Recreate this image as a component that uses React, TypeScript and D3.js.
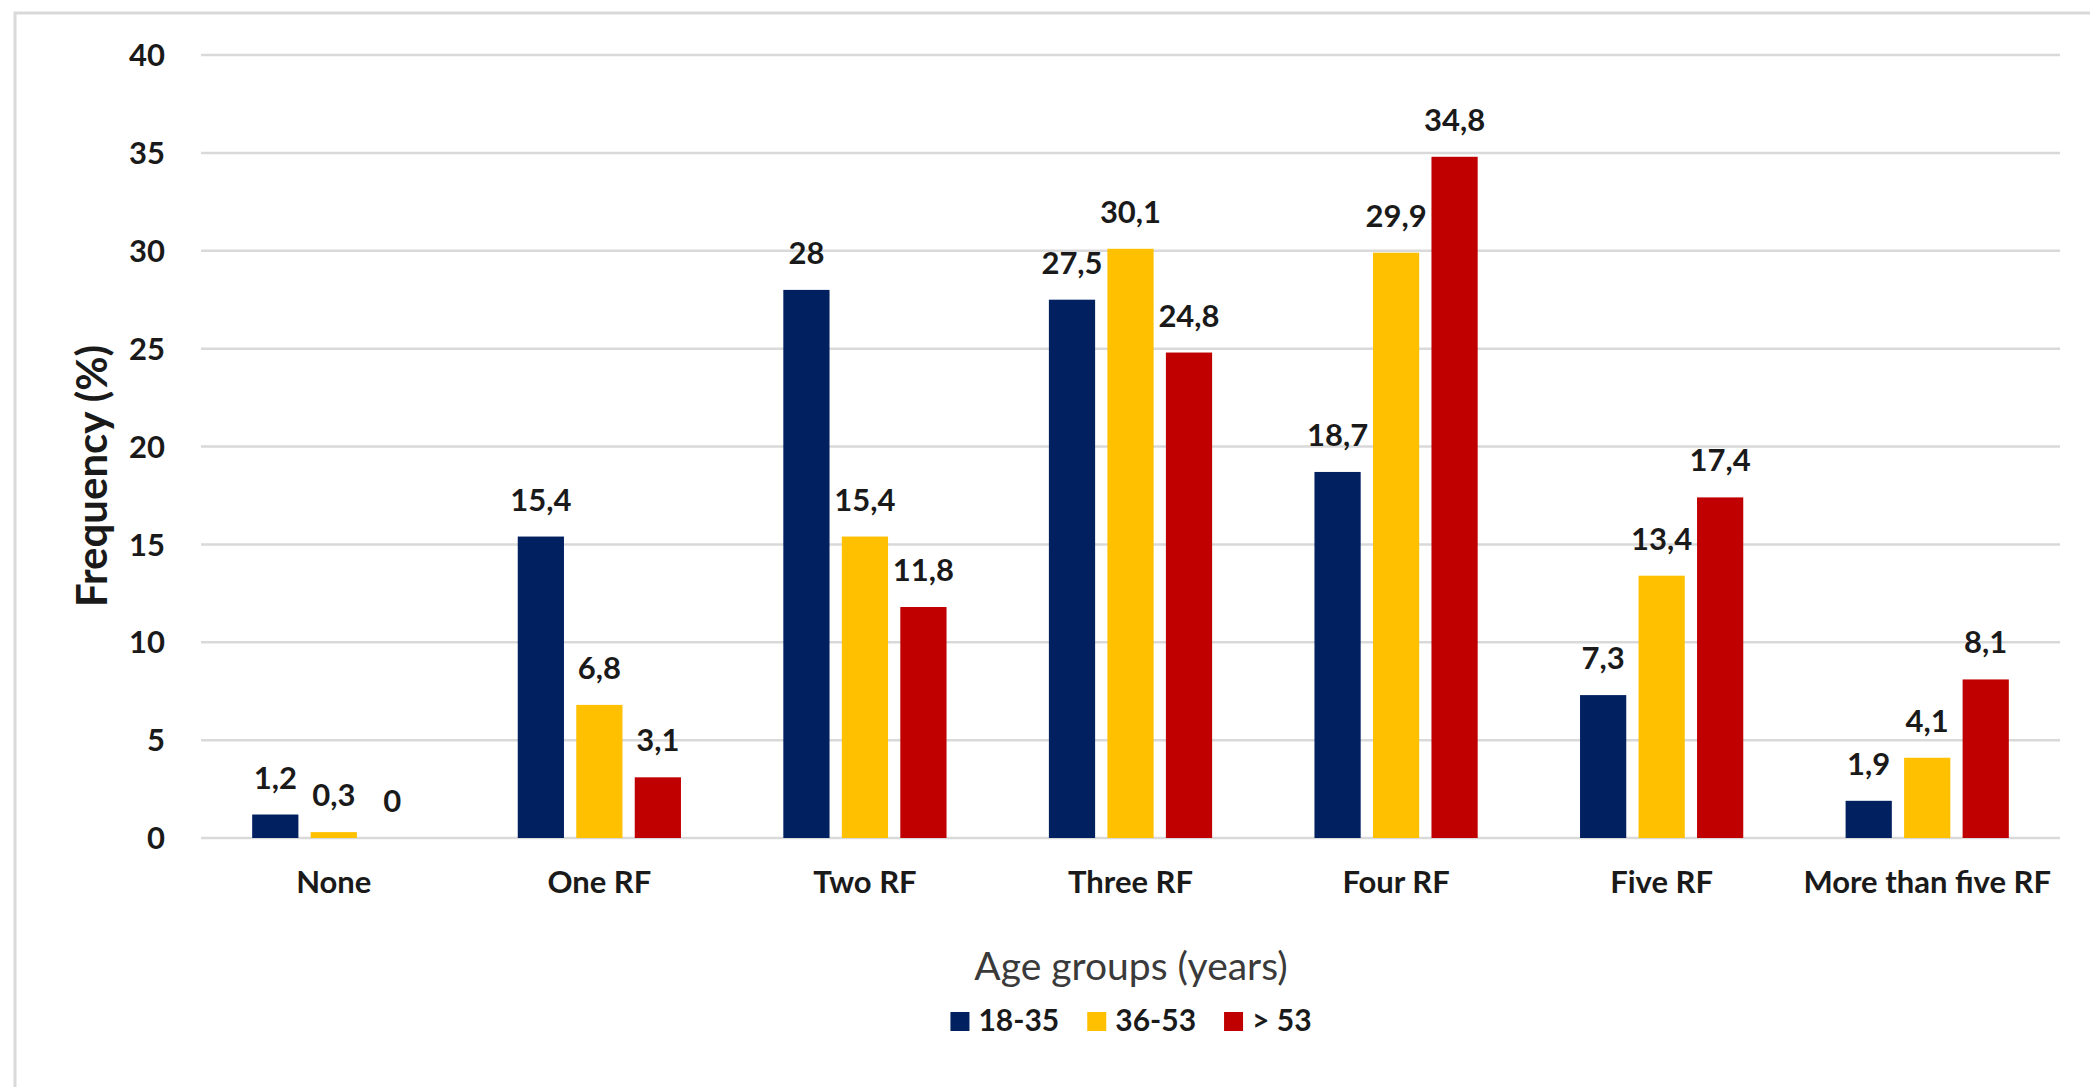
import React, { useEffect, useRef } from 'react';
import * as d3 from 'd3';

const categories = ['None', 'One RF', 'Two RF', 'Three RF', 'Four RF', 'Five RF', 'More than five RF'];
const seriesNames = ['18-35', '36-53', '> 53'];
const seriesColors = ['#002060', '#FFC000', '#C00000'];
const young = [1.2, 15.4, 28, 27.5, 18.7, 7.3, 1.9];
const middle = [0.3, 6.8, 15.4, 30.1, 29.9, 13.4, 4.1];
const older = [0, 3.1, 11.8, 24.8, 34.8, 17.4, 8.1];
const yTicks = [0, 5, 10, 15, 20, 25, 30, 35, 40];

const W = 2090;
const H = 1087;
const FONT = "Lato, 'Open Sans', sans-serif";

const App: React.FC = () => {
  const ref = useRef<SVGSVGElement | null>(null);

  useEffect(() => {
    if (!ref.current) return;
    const svg = d3.select(ref.current);
    svg.selectAll('*').remove();

    const values = [young, middle, older];
    const rows = categories.map((c, i) => ({
      cat: c,
      vals: seriesNames.map((s, k) => ({ key: s, v: values[k][i], color: seriesColors[k] })),
    }));

    const x = d3.scaleBand<string>().domain(categories).range([201, 2060]);
    const y = d3.scaleLinear().domain([0, 40]).range([838, 55]);
    const groupW = 175.5;
    const xs = d3.scaleBand<string>().domain(seriesNames).range([0, groupW])
      .paddingInner(0.21).paddingOuter(0.105);

    // background + frame
    svg.append('rect').attr('width', W).attr('height', H).attr('fill', '#fff');
    svg.append('path')
      .attr('d', `M15,${H + 10} V13 H${W + 10}`)
      .attr('fill', 'none').attr('stroke', '#d9d9d9').attr('stroke-width', 3);

    // gridlines
    svg.append('g').selectAll('line').data(yTicks).enter().append('line')
      .attr('x1', 201).attr('x2', 2060)
      .attr('y1', d => y(d)).attr('y2', d => y(d))
      .attr('stroke', '#d9d9d9').attr('stroke-width', 2.5);

    // y tick labels
    svg.append('g').selectAll('text').data(yTicks).enter().append('text')
      .attr('x', 165).attr('y', d => y(d))
      .attr('dy', '0.36em')
      .attr('text-anchor', 'end')
      .attr('font-family', FONT).attr('font-weight', 700).attr('font-size', 31)
      .attr('fill', '#1a1a1a')
      .text(d => String(d));

    // bars
    const groups = svg.append('g').selectAll('g').data(rows).enter().append('g')
      .attr('transform', d => `translate(${(x(d.cat) as number) + x.bandwidth() / 2 - groupW / 2},0)`);

    groups.selectAll('rect').data(d => d.vals).enter().append('rect')
      .attr('x', d => xs(d.key) as number)
      .attr('width', xs.bandwidth())
      .attr('y', d => y(d.v))
      .attr('height', d => y(0) - y(d.v))
      .attr('fill', d => d.color);

    groups.selectAll('text').data(d => d.vals).enter().append('text')
      .attr('x', d => (xs(d.key) as number) + xs.bandwidth() / 2)
      .attr('y', d => y(d.v) - 26)
      .attr('text-anchor', 'middle')
      .attr('font-family', FONT).attr('font-weight', 700).attr('font-size', 31)
      .attr('fill', '#1a1a1a')
      .text(d => String(d.v).replace('.', ','));

    // category labels
    svg.append('g').selectAll('text').data(categories).enter().append('text')
      .attr('x', d => (x(d) as number) + x.bandwidth() / 2)
      .attr('y', 893)
      .attr('text-anchor', 'middle')
      .attr('font-family', FONT).attr('font-weight', 700).attr('font-size', 31)
      .attr('fill', '#1a1a1a')
      .text(d => d);

    // y axis title
    svg.append('text')
      .attr('transform', 'translate(107,476) rotate(-90)')
      .attr('text-anchor', 'middle')
      .attr('font-family', FONT).attr('font-weight', 700).attr('font-size', 42)
      .attr('fill', '#1a1a1a')
      .text('Frequency (%)');

    // x axis title
    svg.append('text')
      .attr('x', 1131).attr('y', 980)
      .attr('text-anchor', 'middle')
      .attr('font-family', FONT).attr('font-size', 39)
      .attr('fill', '#3a3a3a')
      .text('Age groups (years)');

    // legend
    const legend = svg.append('g');
    let cursor = 0;
    seriesNames.forEach((s, k) => {
      const item = legend.append('g').attr('transform', `translate(${cursor},0)`);
      item.append('rect').attr('x', 0).attr('y', 1012).attr('width', 19).attr('height', 19)
        .attr('fill', seriesColors[k]);
      const t = item.append('text')
        .attr('x', 28).attr('y', 1031)
        .attr('font-family', FONT).attr('font-weight', 700).attr('font-size', 30)
        .attr('fill', '#1a1a1a')
        .text(s);
      const len = (t.node() as SVGTextElement).getComputedTextLength();
      cursor += 28 + len + 28;
    });
    const total = cursor - 28;
    legend.attr('transform', `translate(${1131 - total / 2},0)`);
  }, []);

  return (
    <svg
      ref={ref}
      width={W}
      height={H}
      style={{ position: 'absolute', left: 0, top: 0, display: 'block' }}
    />
  );
};

export default App;
